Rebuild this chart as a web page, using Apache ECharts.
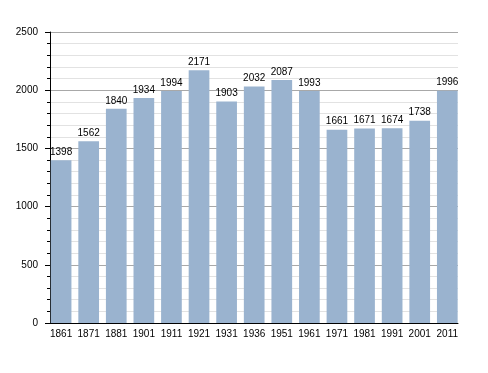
<!DOCTYPE html>
<html><head><meta charset="utf-8">
<script src="https://cdn.jsdelivr.net/npm/echarts@6/dist/echarts.min.js"></script>
<style>html,body{margin:0;padding:0;background:#fff}#c{width:488px;height:373px}</style>
</head><body><div id="c"></div>
<script>
var categories = ['1861','1871','1881','1901','1911','1921','1931','1936','1951','1961','1971','1981','1991','2001','2011'];
var population = [1398,1562,1840,1934,1994,2171,1903,2032,2087,1993,1661,1671,1674,1738,1996];
var yTicks = [0,500,1000,1500,2000,2500];
var FONT = 'Liberation Sans, Arial, sans-serif';
var chart = echarts.init(document.getElementById('c'));
chart.setOption({
  animation:false,
  grid:[
    {left:50,right:30,top:32,bottom:50},
    {left:47.3,right:26.9,top:32,bottom:50}
  ],
  xAxis:[
    {type:'category',gridIndex:0,data:categories,
      axisLine:{lineStyle:{color:'#000',width:1}},
      axisTick:{show:false},axisLabel:{show:false}},
    {type:'category',gridIndex:1,data:categories,
      axisLine:{show:false},axisTick:{show:false},
      axisLabel:{color:'#000',fontFamily:FONT,fontSize:10,margin:6,interval:0}}
  ],
  yAxis:[
    {type:'value',gridIndex:0,min:yTicks[0],max:yTicks[yTicks.length-1],interval:500,
      axisLine:{show:true,lineStyle:{color:'#000'}},
      axisTick:{show:true,inside:false,length:5,lineStyle:{color:'#000'}},
      minorTick:{show:true,splitNumber:5,length:3,lineStyle:{color:'#000'}},
      splitLine:{show:true,lineStyle:{color:'#a8a8a8',width:1}},
      minorSplitLine:{show:true,lineStyle:{color:'#e2e2e2',width:1}},
      axisLabel:{color:'#000',fontFamily:FONT,fontSize:10,margin:12,formatter:function(v){return String(v);}}},
    {type:'value',gridIndex:1,min:yTicks[0],max:yTicks[yTicks.length-1],interval:500,
      show:false,splitLine:{show:false}}
  ],
  series:[{type:'bar',xAxisIndex:1,yAxisIndex:1,data:population,barCategoryGap:'25%',
    itemStyle:{color:'#9ab3cf'},
    label:{show:true,position:'top',distance:3,color:'#000',fontFamily:FONT,fontSize:10}}]
});
</script></body></html>
